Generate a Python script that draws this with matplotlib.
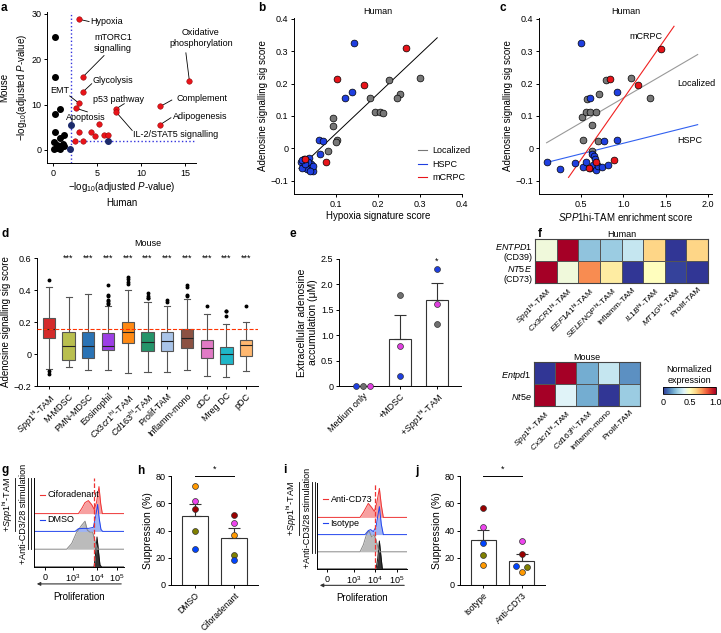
import numpy as np
import matplotlib.pyplot as plt
from matplotlib.cm import ScalarMappable
from matplotlib.colors import Normalize

plt.rcParams['font.family'] = ['Liberation Sans', 'DejaVu Sans']
plt.rcParams['font.size'] = 6.5
plt.rcParams['mathtext.fontset'] = 'custom'
plt.rcParams['mathtext.rm'] = 'Liberation Sans'
plt.rcParams['mathtext.it'] = 'Liberation Sans:italic'
plt.rcParams['mathtext.bf'] = 'Liberation Sans:bold'
plt.rcParams['axes.linewidth'] = 0.7
for k in ['xtick', 'ytick']:
    plt.rcParams[k + '.major.width'] = 0.7
    plt.rcParams[k + '.major.size'] = 2.5
    plt.rcParams[k + '.major.pad'] = 1.5
    plt.rcParams[k + '.labelsize'] = 6.5
plt.rcParams['axes.labelsize'] = 7
plt.rcParams['axes.labelpad'] = 2

# ---------------- data ----------------
# a: hallmark pathways, -log10(adj P) human vs mouse
a_black_x = [0.23, 0.27, 0.8, 0.24, 0.27, 0.8, 1.3, 0.1, 0.4, 0.7, 1.1, 0.1, 0.8, 1.3, 0.5]
a_black_y = [24.8, 16.0, 9.0, 7.9, 3.9, 2.6, 3.2, 1.7, 1.2, 0.9, 1.4, 0.3, 0.2, 0.8, 0.5]
a_navy_x = [2.0, 1.9, 6.3]
a_navy_y = [5.6, 0.3, 2.0]
a_red_x = [2.95, 4.3, 4.8, 5.2, 5.8, 6.3, 2.5, 3.4]
a_red_y = [3.9, 3.9, 3.0, 5.7, 3.2, 3.2, 1.9, 1.9]
a_labels = ['Hypoxia', 'mTORC1\nsignalling', 'Glycolysis', 'EMT', 'Apoptosis', 'p53 pathway',
            'IL-2/STAT5 signalling', 'Complement', 'Adipogenesis', 'Oxidative\nphosphorylation']
a_lab_x = [2.95, 3.4, 3.4, 2.95, 2.6, 7.2, 7.2, 12.2, 12.2, 15.5]
a_lab_y = [28.8, 16.1, 12.8, 10.3, 9.2, 9.1, 8.3, 9.6, 5.6, 15.2]
a_cutoff = 2

# b: hypoxia vs adenosine score
b_local_x = [0.300, 0.227, 0.252, 0.245, 0.181, 0.092, 0.092, 0.193, 0.205, 0.212, 0.102, 0.100, 0.080]
b_local_y = [0.217, 0.210, 0.169, 0.155, 0.154, 0.095, 0.070, 0.113, 0.112, 0.109, 0.026, 0.019, -0.008]
b_hspc_x = [0.144, 0.122, 0.137, 0.059, 0.069, 0.061, 0.016, 0.024, 0.036, 0.023, 0.031, 0.041,
            0.046, 0.034, 0.019, 0.027, 0.045, 0.038, 0.020]
b_hspc_y = [0.326, 0.157, 0.173, 0.025, 0.021, -0.018, -0.044, -0.033, -0.031, -0.057, -0.064, -0.050,
            -0.069, -0.042, -0.062, -0.048, -0.056, -0.069, -0.037]
b_mcrpc_x = [0.266, 0.102, 0.167, 0.075, 0.027]
b_mcrpc_y = [0.309, 0.215, 0.197, -0.044, -0.034]
b_fit = (1.228, -0.077)          # slope, intercept
b_fit_range = (0.012, 0.341)

# c: SPP1hi-TAM enrichment vs adenosine score
c_local_x = [1.09, 0.79, 0.71, 1.31, 0.57, 0.51, 0.63, 0.56, 0.60, 0.68, 0.52, 0.70, 0.63]
c_local_y = [0.216, 0.210, 0.169, 0.155, 0.153, 0.097, 0.072, 0.112, 0.113, 0.112, 0.026, 0.021, -0.010]
c_hspc_x = [0.50, 0.60, 0.92, 0.92, 0.77, 0.63, 0.09, 0.25, 0.43, 0.52, 0.56, 0.60, 0.64, 0.67,
            0.70, 0.75, 0.82, 0.65, 0.66]
c_hspc_y = [0.326, 0.157, 0.173, 0.025, 0.021, -0.018, -0.044, -0.065, -0.046, -0.057, -0.044, -0.062,
            -0.052, -0.067, -0.054, -0.057, -0.052, -0.024, -0.034]
c_mcrpc_x = [1.44, 0.84, 1.17, 0.885, 0.67, 0.59]
c_mcrpc_y = [0.307, 0.214, 0.195, -0.037, -0.044, -0.062]
c_fit_local = (0.1525, 0.0033, 0.09, 1.88)
c_fit_hspc = (0.0654, -0.0499, 0.09, 1.88)
c_fit_mcrpc = (0.374, -0.221, 0.35, 1.60)

# d: adenosine signature per mouse cell type
d_names = [r'$\it{Spp1}^{\rm hi}$-TAM', 'M-MDSC', 'PMN-MDSC', 'Eosinophil', r'$\it{Cx3cr1}^{\rm hi}$-TAM',
           r'$\it{Cd163}^{\rm hi}$-TAM', 'Prolif-TAM', 'Inflamm-mono', 'cDC', 'Mreg DC', 'pDC']
d_colors = ['#d42a2a', '#b9bf4f', '#2a73b5', '#9d3fe6', '#ff8a14', '#25946a', '#a9c4e8', '#8c5243',
            '#e07ac5', '#1fb7c9', '#ffb870']
d_whislo = [-0.092, -0.083, -0.098, -0.102, -0.12, -0.11, -0.11, -0.102, -0.135, -0.144, -0.104]
d_q1 = [0.10, -0.038, -0.027, 0.023, 0.067, 0.021, 0.021, 0.04, -0.027, -0.06, -0.015]
d_med = [0.156, 0.05, 0.05, 0.05, 0.135, 0.077, 0.083, 0.10, 0.035, -0.002, 0.054]
d_q3 = [0.225, 0.14, 0.14, 0.13, 0.20, 0.14, 0.14, 0.156, 0.09, 0.044, 0.09]
d_whishi = [0.42, 0.356, 0.377, 0.30, 0.40, 0.325, 0.297, 0.345, 0.25, 0.185, 0.20]
d_fliers = [[0.46, -0.123, -0.106], [], [], [0.433, 0.37, 0.36, 0.34, 0.33, 0.32, 0.31],
            [0.48, 0.47, 0.45, 0.44], [0.38, 0.36, 0.35, 0.35], [0.34, 0.325],
            [0.43, 0.42, 0.37, 0.36], [0.30], [0.27, 0.27, 0.235], [0.30]]

# e: extracellular adenosine
e_names = ['Medium only', '+MDSC', r'+$\it{Spp1}^{\rm hi}$-TAM']
e_mean = [0.0, 0.92, 1.70]
e_sem = [0.0, 0.48, 0.33]
e_dots = [[0.0, 0.0, 0.0], [0.2, 1.8, 0.78], [2.31, 1.23, 1.62]]
e_dot_colors = ['#1f3fe0', '#707070', '#e040e0']

# f: normalized expression heatmaps
f_human_cols = [r'$\it{Spp1}^{\rm hi}$-TAM', r'$\it{Cx3CR1}^{\rm hi}$-TAM', r'$\it{EEF1A1}^{\rm hi}$-TAM',
                r'$\it{SELENOP}^{\rm hi}$-TAM', 'Inflamm-TAM', r'$\it{IL1B}^{\rm hi}$-TAM',
                r'$\it{MT1G}^{\rm hi}$-TAM', 'Prolif-TAM']
f_human_rows = ['$\\it{ENTPD1}$\n(CD39)', '$\\it{NT5E}$\n(CD73)']
f_human = [[0.45, 1.00, 0.25, 0.27, 0.35, 0.62, 0.0, 0.62],
           [1.00, 0.45, 0.75, 0.56, 0.0, 0.50, 0.02, 0.0]]
f_mouse_cols = [r'$\it{Spp1}^{\rm hi}$-TAM', r'$\it{Cx3cr1}^{\rm hi}$-TAM', r'$\it{Cd163}^{\rm hi}$-TAM',
                'Inflamm-mono', 'Prolif-TAM']
f_mouse_rows = ['$\\it{Entpd1}$', '$\\it{Nt5e}$']
f_mouse = [[0.0, 1.0, 0.20, 0.35, 0.15],
           [1.0, 0.40, 0.20, 0.0, 0.27]]

# g / i: proliferation histograms (x in display channel units 0-100, height in px)
g_ticks = [12.2, 43.3, 70.0, 92.2]
g_black_x = [0, 66.7, 68.3, 70.0, 71.7, 73.3, 75.2, 100]
g_black_h = [0, 0, 12, 30, 15, 2, 0, 0]
g_gray_x = [0, 36.3, 41.9, 47.4, 53.0, 56.7, 59.3, 62.2, 65.2, 67.8, 70.4, 100]
g_gray_h = [0, 0, 5.7, 17, 24, 28, 19, 17, 17, 8, 0, 0]
g_blue_x = [0, 45.6, 49.3, 54.8, 60.4, 65.9, 68.5, 70.7, 72.6, 74.4, 76.3, 100]
g_blue_h = [0, 0, 2.7, 3, 3, 4, 15, 27, 12, 2, 0, 0]
g_red_x = [0, 49.3, 53.0, 56.7, 60.4, 64.1, 67.0, 69.6, 72.2, 74.1, 75.9, 100]
g_red_h = [0, 0, 5, 11, 13, 9, 4, 12, 27, 10, 0, 0]
g_cut = 66.7

i_ticks = [11.0, 41.0, 64.4, 88.9]
i_black_x = [0, 65.6, 67.4, 69.3, 70.8, 72.6, 100]
i_black_h = [0, 0, 10, 28, 15, 0, 0]
i_gray_x = [0, 47.8, 51.5, 55.2, 57.8, 60.7, 63.3, 65.6, 68.1, 70.0, 100]
i_gray_h = [0, 0, 7, 18, 21, 15, 17, 12, 3, 0, 0]
i_blue_x = [0, 53.3, 57.0, 59.6, 62.6, 65.6, 69.3, 71.5, 73.7, 100]
i_blue_h = [0, 0, 4, 5, 3, 8, 28, 10, 0, 0]
i_red_x = [0, 47.8, 51.5, 57.0, 60.7, 63.7, 66.3, 69.3, 71.5, 73.7, 100]
i_red_h = [0, 0, 5, 14, 10, 6, 14, 29, 12, 0, 0]
i_cut = 64.4

# h / j: suppression (%)
dot_colors = ['#ff9900', '#ee44ee', '#990000', '#808000', '#0044ff']
h_names = ['DMSO', 'Ciforadenant']
h_mean = [51.0, 34.5]
h_sem = [8.6, 7.3]
h_dots = [[72.7, 62.0, 56.0, 39.8, 26.7], [36.8, 45.6, 51.2, 21.8, 18.2]]
j_names = ['Isotype', 'Anti-CD73']
j_mean = [32.7, 17.7]
j_sem = [8.0, 4.8]
j_dots = [[14.5, 42.4, 56.5, 22.0, 30.5], [9.7, 32.0, 22.5, 13.3, 13.8]]
j_jitter = [[0, 0, 0, 0, 0], [0, 0, 0, 0.13, -0.14]]

# ---------------- figure ----------------
W, H = 721, 633
fig = plt.figure(figsize=(W / 100, H / 100), dpi=100)


def add_ax(l, t, r, b):
    ax = fig.add_axes([l / W, 1 - b / H, (r - l) / W, (b - t) / H])
    for s in ['top', 'right']:
        ax.spines[s].set_visible(False)
    return ax


def letter(x, y, s):
    fig.text(x / W, 1 - y / H, s, fontsize=8.5, fontweight='bold', va='top', ha='left')


# ---- a ----
ax = add_ax(47, 12, 196, 163)
ax.set_xlim(-0.68, 16.25)
ax.set_ylim(-2.87, 30.4)
ax.axvline(a_cutoff, color='#3333dd', ls=':', lw=1.0)
ax.plot([a_cutoff, 16.25], [a_cutoff, a_cutoff], color='#3333dd', ls=':', lw=1.0)
ax.scatter(a_black_x, a_black_y, s=16, c='k', zorder=3)
ax.scatter(a_navy_x, a_navy_y, s=16, c='#1c2a6b', zorder=3)
ax.scatter(a_red_x, a_red_y, s=16, c='#e8141a', edgecolors='#800000', linewidths=0.3, zorder=3)
ax.scatter(a_lab_x, a_lab_y, s=16, c='#e8141a', edgecolors='#800000', linewidths=0.3, zorder=3)
# (text position, line end, alignment)
a_layout = [((4.2, 28.3), (4.1, 28.3), 'left'), ((6.8, 23.6), (5.8, 20.8), 'center'),
            ((4.5, 15.2), (4.4, 14.6), 'left'), ((1.8, 13.2), (1.9, 11.9), 'right'),
            ((1.5, 7.1), (3.9, 8.4), 'left'), ((4.5, 11.2), (8.1, 10.2), 'left'),
            ((9.1, 3.4), (9.0, 4.3), 'left'), ((14.0, 11.3), (13.5, 11.0), 'left'),
            ((13.6, 7.3), (13.4, 7.1), 'left'), ((16.8, 24.7), (15.1, 21.4), 'center')]
for lab, px, py, (tp, le, ha) in zip(a_labels, a_lab_x, a_lab_y, a_layout):
    ax.plot([px, le[0]], [py, le[1]], color='k', lw=0.6, zorder=2)
    ax.text(tp[0], tp[1], lab, ha=ha, va='center', fontsize=6.5, linespacing=1.3, clip_on=False)
ax.set_xticks([0, 5, 10, 15])
ax.set_yticks([0, 10, 20, 30])
ax.set_xlabel('\u2212log$_{10}$(adjusted $P$-value)\nHuman', linespacing=1.5)
ax.set_ylabel('Mouse\n\u2212log$_{10}$(adjusted $P$-value)', linespacing=1.5)
letter(1, 2, 'a')

# ---- b ----
ax = add_ax(294, 18, 462, 194)
ax.set_xlim(0, 0.4)
ax.set_ylim(-0.1415, 0.403)
xf = np.array(b_fit_range)
ax.plot(xf, b_fit[0] * xf + b_fit[1], color='k', lw=0.7, zorder=2)
kw = dict(s=24, edgecolors='k', linewidths=0.5, zorder=3)
ax.scatter(b_local_x, b_local_y, c='#777777', **kw)
ax.scatter(b_hspc_x, b_hspc_y, c='#1f3fe0', **kw)
ax.scatter(b_mcrpc_x, b_mcrpc_y, c='#e8141a', **kw)
for lab, col in zip(['Localized', 'HSPC', 'mCRPC'], ['#777777', '#1f3fe0', '#e8141a']):
    ax.plot([], [], color=col, lw=0.8, label=lab)
ax.legend(loc='lower right', bbox_to_anchor=(1.1, 0.02), frameon=False, fontsize=6.5,
          handlelength=1.0, handletextpad=0.6, labelspacing=0.5)
ax.set_xticks([0.1, 0.2, 0.3, 0.4])
ax.set_yticks([-0.1, 0, 0.1, 0.2, 0.3, 0.4])
ax.set_yticklabels(['\u22120.1', '0', '0.1', '0.2', '0.3', '0.4'])
ax.set_xlabel('Hypoxia signature score')
ax.set_ylabel('Adenosine signalling sig score')
ax.set_title('Human', fontsize=6.5, pad=3)
letter(258, 2, 'b')

# ---- c ----
ax = add_ax(539, 18, 712, 194)
ax.set_xlim(0, 2.05)
ax.set_ylim(-0.1415, 0.403)
for (sl, ic, x0, x1), col in zip([c_fit_local, c_fit_hspc, c_fit_mcrpc], ['#999999', '#3060f0', '#f02020']):
    xf = np.array([x0, x1])
    ax.plot(xf, sl * xf + ic, color=col, lw=0.8, zorder=2)
ax.scatter(c_local_x, c_local_y, c='#777777', **kw)
ax.scatter(c_hspc_x, c_hspc_y, c='#1f3fe0', **kw)
ax.scatter(c_mcrpc_x, c_mcrpc_y, c='#e8141a', **kw)
ax.text(1.27, 0.345, 'mCRPC', fontsize=6.5, ha='center', va='center')
ax.text(1.64, 0.2, 'Localized', fontsize=6.5, ha='left', va='center')
ax.text(1.64, 0.023, 'HSPC', fontsize=6.5, ha='left', va='center')
ax.set_xticks([0.5, 1.0, 1.5, 2.0])
ax.set_yticks([-0.1, 0, 0.1, 0.2, 0.3, 0.4])
ax.set_yticklabels(['\u22120.1', '0', '0.1', '0.2', '0.3', '0.4'])
ax.set_xlabel('$\\it{SPP1}$hi-TAM enrichment score')
ax.set_ylabel('Adenosine signalling sig score')
ax.set_title('Human', fontsize=6.5, pad=3)
letter(500, 2, 'c')

# ---- d ----
ax = add_ax(37, 258, 258, 386)
ax.set_ylim(-0.2, 0.6)
ax.set_xlim(-0.6, 10.6)
stats = []
for i in range(len(d_names)):
    stats.append(dict(med=d_med[i], q1=d_q1[i], q3=d_q3[i], whislo=d_whislo[i],
                      whishi=d_whishi[i], fliers=d_fliers[i]))
bp = ax.bxp(stats, positions=range(len(d_names)), widths=0.62, patch_artist=True,
            boxprops=dict(edgecolor='#555555', linewidth=0.8),
            whiskerprops=dict(color='#555555', linewidth=0.8),
            capprops=dict(color='#555555', linewidth=0.8),
            medianprops=dict(color='#222222', linewidth=0.8),
            flierprops=dict(marker='o', markersize=1.8, markerfacecolor='k', markeredgecolor='k'))
for patch, col in zip(bp['boxes'], d_colors):
    patch.set_facecolor(col)
ax.axhline(d_med[0], color='#ff3300', ls='--', lw=0.8, zorder=5)
for i in range(1, len(d_names)):
    ax.text(i, 0.6, '***', ha='center', va='center', fontsize=6.5, clip_on=False)
ax.set_xticks(range(len(d_names)))
ax.set_xticklabels(d_names, rotation=45, ha='right', rotation_mode='anchor', fontsize=6.5)
ax.set_yticks([-0.2, 0, 0.2, 0.4, 0.6])
ax.set_yticklabels(['\u22120.2', '0', '0.2', '0.4', '0.6'])
ax.set_ylabel('Adenosine signalling sig score')
ax.set_title('Mouse', fontsize=6.5, pad=9)
letter(1, 228, 'd')

# ---- e ----
ax = add_ax(339, 259, 461, 386)
ax.set_xlim(-0.65, 2.65)
ax.set_ylim(0, 2.5)
xs = np.arange(3)
ax.bar(xs[1:], e_mean[1:], width=0.6, color='white', edgecolor='#333333', linewidth=0.8, zorder=1)
ax.errorbar(xs[1:], e_mean[1:], yerr=[[0, 0], e_sem[1:]], fmt='none', ecolor='#333333',
            elinewidth=0.8, capsize=4, capthick=0.8, zorder=1)
off = [-0.19, 0, 0.19]
for i in range(3):
    for j, col in enumerate(e_dot_colors):
        dx = off[j] if i == 0 else 0
        ax.scatter(i + dx, e_dots[i][j], s=18, c=col, edgecolors='#333333', linewidths=0.5,
                   zorder=3, clip_on=False)
ax.text(2, 2.46, '*', ha='center', va='center', fontsize=6.5)
ax.set_xticks(xs)
ax.set_xticklabels(e_names, rotation=45, ha='right', rotation_mode='anchor', fontsize=6.5)
ax.set_yticks([0, 0.5, 1.0, 1.5, 2.0, 2.5])
ax.set_yticklabels(['0', '0.5', '1.0', '1.5', '2.0', '2.5'])
ax.set_ylabel('Extracellular adenosine\naccumulation (\u03bcM)', fontsize=7.5)
letter(290, 228, 'e')

# ---- f ----
cmap = plt.get_cmap('RdYlBu_r')
for data, cols, rows, box, title in [
        (f_human, f_human_cols, f_human_rows, (535, 239, 708, 283), 'Human'),
        (f_mouse, f_mouse_cols, f_mouse_rows, (534, 362, 640, 406), 'Mouse')]:
    ax = fig.add_axes([box[0] / W, 1 - box[3] / H, (box[2] - box[0]) / W, (box[3] - box[1]) / H])
    ax.pcolormesh(np.array(data), cmap=cmap, vmin=0, vmax=1, edgecolors='#555555', linewidth=0.6)
    ax.set_ylim(len(rows), 0)
    ax.set_xticks(np.arange(len(cols)) + 0.5)
    ax.set_xticklabels(cols, rotation=45, ha='right', rotation_mode='anchor', fontsize=6)
    ax.set_yticks(np.arange(len(rows)) + 0.5)
    ax.set_yticklabels(rows, fontsize=6.5, ha='right')
    ax.tick_params(length=0, pad=2)
    for s in ax.spines.values():
        s.set_linewidth(0.8)
        s.set_color('#444444')
    ax.set_title(title, fontsize=6.5, pad=1.5)
cax = fig.add_axes([663 / W, 1 - 394 / H, 53 / W, 7 / H])
cb = fig.colorbar(ScalarMappable(Normalize(0, 1), cmap), cax=cax, orientation='horizontal')
cb.set_ticks([0, 0.5, 1.0])
cb.set_ticklabels(['0', '0.5', '1.0'])
cb.ax.tick_params(length=0, pad=3, labelsize=6.5)
cb.outline.set_linewidth(0.6)
cax.set_title('Normalized\nexpression', fontsize=6.5, pad=3, linespacing=1.3)
letter(538, 228, 'f')


# ---- g / i ----
def hist_panel(box, ticks, curves, cut, legend_labels):
    ax = add_ax(*box)
    top = box[3] - box[1]
    ax.set_xlim(0, 100)
    ax.set_ylim(0, top)
    base = [0, top * 0.2, top * 0.4, top * 0.6]
    styles = [('#111111', '#333333'), ('#888888', '#bbbbbb'), ('#2244ee', '#9fb4f5'), ('#ee3333', '#f7a0a0')]
    for (xv, hv), b0, (lc, fc) in zip(curves, base, styles):
        yv = b0 + np.array(hv)
        ax.fill_between(xv, b0, yv, color=fc, lw=0)
        ax.plot(xv, yv, color=lc, lw=0.7)
    ax.axvline(cut, color='#ee3333', ls='--', lw=0.9, zorder=5)
    ax.set_yticks([])
    ax.set_xticks(ticks)
    ax.set_xticklabels(['0', '10$^3$', '10$^4$', '10$^5$'])
    for yy, lab, col in zip([base[3] + 0.5 * (top - base[3]) + 1, base[2] + 0.5 * (base[3] - base[2]) + 3],
                            legend_labels, ['#ee3333', '#2244ee']):
        ax.plot([7, 12], [yy, yy], color=col, lw=0.8)
        ax.text(15, yy, lab, va='center', fontsize=6.5)
    ax.annotate('', xy=(0, -0.19), xytext=(1, -0.19), xycoords='axes fraction',
                arrowprops=dict(arrowstyle='-|>', lw=0.8, color='#333333', mutation_scale=5))
    ax.text(0.5, -0.28, 'Proliferation', transform=ax.transAxes, ha='center', va='top', fontsize=7)
    return ax


def side_labels(x0, t, b):
    fig.text(x0 / W, 1 - (t + b - 18) / 2 / H, '+$\\it{Spp1}^{\\rm hi}$-TAM', rotation=90,
             ha='center', va='center', fontsize=6.5)
    fig.add_artist(plt.Line2D([(x0 + 7) / W] * 2, [1 - t / H, 1 - (b - 18) / H], color='k', lw=0.6))
    fig.text((x0 + 16) / W, 1 - (t + b) / 2 / H, '+Anti-CD3/28 stimulation', rotation=90,
             ha='center', va='center', fontsize=6.5)
    for dx in (20, 23):
        fig.add_artist(plt.Line2D([(x0 + dx) / W] * 2, [1 - t / H, 1 - b / H], color='k', lw=0.6))


hist_panel((34, 478, 124, 567), g_ticks,
           [(g_black_x, g_black_h), (g_gray_x, g_gray_h), (g_blue_x, g_blue_h), (g_red_x, g_red_h)],
           g_cut, ['Ciforadenant', 'DMSO'])
side_labels(8, 478, 549)
letter(1, 464, 'g')

hist_panel((317, 483, 407, 569), i_ticks,
           [(i_black_x, i_black_h), (i_gray_x, i_gray_h), (i_blue_x, i_blue_h), (i_red_x, i_red_h)],
           i_cut, ['Anti-CD73', 'Isotype'])
side_labels(292, 482, 553)
letter(283, 464, 'i')


# ---- h / j ----
def supp_panel(box, names, mean, sem, dots, jitter):
    ax = add_ax(*box)
    ax.set_ylim(0, 80)
    ax.set_xlim(-0.6, 1.6)
    xs = np.arange(2)
    ax.bar(xs, mean, width=0.65, color='white', edgecolor='#333333', linewidth=0.8)
    ax.errorbar(xs, mean, yerr=[[0, 0], sem], fmt='none', ecolor='#333333', elinewidth=0.8,
                capsize=4, capthick=0.8)
    for i in range(2):
        for j, col in enumerate(dot_colors):
            ax.scatter(i + jitter[i][j], dots[i][j], s=18, c=col, edgecolors='#333333',
                       linewidths=0.5, zorder=3)
    ax.plot([0, 1], [80, 80], color='k', lw=0.7, clip_on=False)
    ax.text(0.5, 82, '*', ha='center', va='bottom', fontsize=6.5)
    ax.set_yticks([0, 20, 40, 60, 80])
    ax.set_xticks(xs)
    ax.set_xticklabels(names, rotation=45, ha='right', rotation_mode='anchor', fontsize=6.2)
    ax.set_ylabel('Suppression (%)', fontsize=7.5)
    return ax


supp_panel((171, 476, 258, 585), h_names, h_mean, h_sem, h_dots, [[0] * 5, [0] * 5])
letter(137, 465, 'h')
supp_panel((460, 476, 545, 585), j_names, j_mean, j_sem, j_dots, j_jitter)
letter(415, 465, 'j')

fig.savefig('out.png', dpi=100)
